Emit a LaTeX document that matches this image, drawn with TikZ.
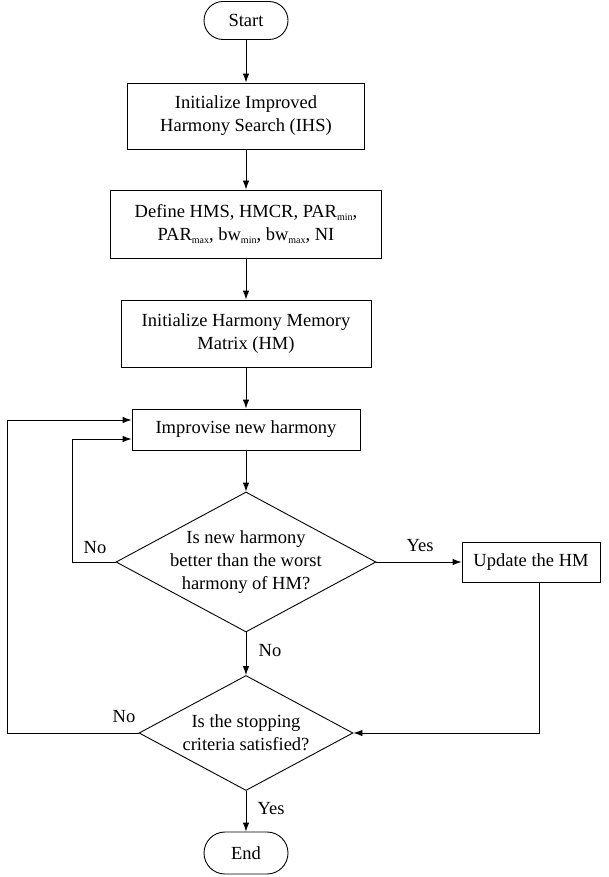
\documentclass[tikz,border=0pt]{standalone}
\usepackage{fontspec}
\setmainfont{Liberation Serif}
\usetikzlibrary{shapes.geometric,arrows.meta,calc}
\newcommand\lowsb[1]{\raisebox{-0.45ex}{\fontsize{10}{10}\selectfont #1}}
\begin{document}
\begin{tikzpicture}[x=1pt,y=-1pt,
  every node/.style={font=\fontsize{18.5}{23}\selectfont},
  box/.style={draw,line width=0.9pt,inner sep=0pt,align=center},
  term/.style={draw,line width=0.9pt,rounded corners=19pt,inner sep=0pt,minimum width=84pt,minimum height=38pt},
  dia/.style={draw,diamond,line width=0.9pt,inner sep=0pt},
  arr/.style={line width=0.9pt,-{Latex[length=9pt,width=6.5pt]}},
  ln/.style={line width=0.9pt},
  lbl/.style={inner sep=0pt}]
\useasboundingbox (0,0) rectangle (608,877);
\node[term] (start) at (246,20.5) {Start};
\node[box,minimum width=237pt,minimum height=66pt] (b1) at (246,116) {Initialize Improved\\Harmony Search (IHS)};
\node[box,minimum width=271pt,minimum height=68pt] (b2) at (246,224) {Define HMS, HMCR, PAR\lowsb{min},\\PAR\lowsb{max}, bw\lowsb{min}, bw\lowsb{max}, NI};
\node[box,minimum width=250pt,minimum height=67pt] (b3) at (246,333.5) {Initialize Harmony Memory\\Matrix (HM)};
\node[box,minimum width=228pt,minimum height=41pt] (imp) at (246,429.5) {Improvise new harmony};
\node[dia,minimum width=260pt,minimum height=140pt,
  label={[align=center,font=\fontsize{18.5}{23}\selectfont]center:Is new harmony\\better than the worst\\harmony of HM?}] (d1) at (246,562) {};
\node[box,minimum width=138pt,minimum height=40pt] (upd) at (531,562) {Update the HM};
\node[dia,minimum width=214pt,minimum height=115pt,
  label={[align=center,font=\fontsize{18.5}{23}\selectfont]center:Is the stopping\\criteria satisfied?}] (d2) at (246,733) {};
\node[term,minimum height=42pt,rounded corners=21pt] (end) at (246,853) {End};
\coordinate (u1) at (539,582);
\coordinate (L1) at (7,733);
\coordinate (L2) at (72,562);
\draw[arr] (start) -- (b1);
\draw[arr] (b1) -- (b2);
\draw[arr] (b2) -- (b3);
\draw[arr] (b3) -- (imp);
\draw[arr] (imp) -- (d1.north);
\draw[arr] (d1.east) -- (upd.west);
\draw[arr] (d1.south) -- (d2.north);
\draw[arr] (d2.south) -- (end.north);
\draw[arr] (u1) |- (d2.east);
\draw[arr] (d1.west) -- (L2) |- ($(imp.west)+(0,9.5)$);
\draw[arr] (d2.west) -- (L1) |- ($(imp.west)+(0,-9.5)$);
\node[lbl] (n1) at (95,548) {No};
\node[lbl] (y1) at (420,546) {Yes};
\node[lbl] (n2) at (270,651) {No};
\node[lbl] (n3) at (124,717) {No};
\node[lbl] (y2) at (271,809) {Yes};
\end{tikzpicture}
\end{document}
